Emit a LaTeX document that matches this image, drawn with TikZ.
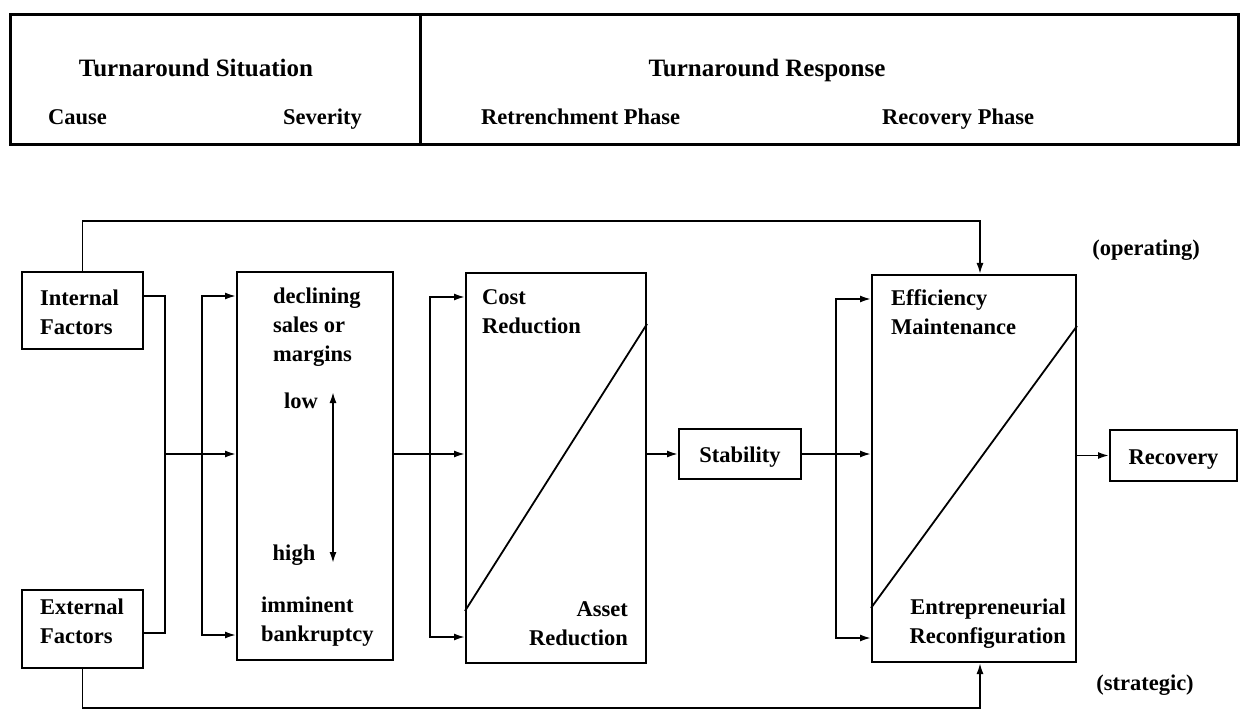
\documentclass[tikz,border=0pt]{standalone}
\usepackage{fontspec}
\setmainfont{Liberation Serif}
\usetikzlibrary{calc,arrows.meta}
\begin{document}
\begin{tikzpicture}[x=1pt,y=-1pt,
  every node/.style={font=\fontsize{22.5}{29}\selectfont\bfseries, inner sep=0pt},
  title/.style={font=\fontsize{25}{29}\selectfont\bfseries},
  box/.style={draw, line width=2pt, inner sep=0pt},
  hbox/.style={draw, line width=3pt},
  conn/.style={line width=1.8pt},
  arr/.style={conn, -{Latex[length=11pt,width=7pt]}},
  dblarr/.style={conn, {Latex[length=11pt,width=7pt]}-{Latex[length=11pt,width=7pt]}},
]
\useasboundingbox (0,0) rectangle (1240,711);
% header
\node[hbox, minimum width=410, minimum height=130] (hs) at (215,80) {};
\node[hbox, minimum width=818, minimum height=130] (hr) at (829,80) {};
\node[title, anchor=mid] (ts) at (196,74) {Turnaround Situation};
\node[anchor=mid west] (cause) at (48,122) {Cause};
\node[anchor=mid east] (sevt) at (362,122) {Severity};
\node[title, anchor=mid] (tr) at (767,74) {Turnaround Response};
\node[anchor=mid west] (retph) at (481,122) {Retrenchment Phase};
\node[anchor=mid west] (recph) at (882,122) {Recovery Phase};
% main nodes
\node[box, minimum width=121, minimum height=77] (int) at (82.5,310.5) {};
\node[box, minimum width=121, minimum height=78] (ext) at (82.5,629) {};
\node[anchor=west, align=left] (intt) at (40,312) {Internal\\Factors};
\node[anchor=west, align=left] (extt) at (40,621) {External\\Factors};
\node[box, minimum width=156, minimum height=388] (sev) at (315,466) {};
\node[box, minimum width=180, minimum height=390] (ret) at (556,468) {};
\node[box, minimum width=122, minimum height=50, text depth=0pt, text height=17pt] (stab) at (740,454) {Stability};
\node[box, minimum width=204, minimum height=387] (rec) at (974,468.5) {};
\node[box, minimum width=127, minimum height=51, text depth=0pt, text height=17pt] (res) at (1173.5,455.5) {Recovery};
% texts inside big boxes
\node[anchor=west, align=left] (decl) at (273,327) {declining\\sales or\\margins};
\node[anchor=mid] (low) at (301,406) {low};
\node[anchor=mid] (high) at (294,558) {high};
\node[anchor=west, align=left] (immi) at (261,622) {imminent\\bankruptcy};
\node[anchor=west, align=left] (cost) at (482,312) {Cost\\Reduction};
\node[anchor=east, align=right] (asset) at (628,624) {Asset\\Reduction};
\node[anchor=west, align=left] (eff) at (891,312) {Efficiency\\Maintenance};
\node[anchor=east, align=right] (entr) at (1066,624) {Entrepreneurial\\Reconfiguration};
\node[anchor=mid] (oper) at (1146,253) {(operating)};
\node[anchor=mid] (strat) at (1145,688) {(strategic)};
% severity double arrow
\coordinate (lo) at (333,392);
\coordinate (hi) at (333,563);
\draw[dblarr] (lo) -- (hi);
% diagonals
\draw[conn] ($(ret.south west)+(0,-53)$) -- ($(ret.north east)+(0,52)$);
\draw[conn] ($(rec.south west)+(0,-55)$) -- ($(rec.north east)+(0,52)$);
% merge of causes
\coordinate (m1) at (165,454);
\draw[conn] ($(int.north east)+(0,25)$) -| (m1);
\draw[conn] ($(ext.north east)+(0,44)$) -| (m1);
\draw[arr] (m1) -- (m1 -| sev.west);
\coordinate (f1) at (202,454);
\draw[arr] (f1) |- ($(sev.north west)+(0,25)$);
\draw[arr] (f1) |- ($(sev.south west)+(0,-26)$);
% severity to retrenchment
\coordinate (f2) at (430,454);
\draw[conn] (sev.east |- f2) -- (f2);
\draw[arr] (f2) -- (f2 -| ret.west);
\draw[arr] (f2) |- ($(ret.north west)+(0,25)$);
\draw[arr] (f2) |- ($(ret.south west)+(0,-27)$);
\draw[arr] (ret.east |- stab) -- (stab.west);
% stability to recovery phase
\coordinate (f3) at (836,454);
\draw[conn] (stab.east) -- (f3);
\draw[arr] (f3) -- (f3 -| rec.west);
\draw[arr] (f3) |- ($(rec.north west)+(0,25)$);
\draw[arr] (f3) |- ($(rec.south west)+(0,-25)$);
\draw[arr] (rec.east |- res) -- (res.west);
% feedback lines
\draw[arr] (int.north) |- ($(rec.north)+(6,-53)$) -- ($(rec.north)+(6,0)$);
\draw[arr] (ext.south) |- ($(rec.south)+(6,45)$) -- ($(rec.south)+(6,0)$);
\end{tikzpicture}
\end{document}
